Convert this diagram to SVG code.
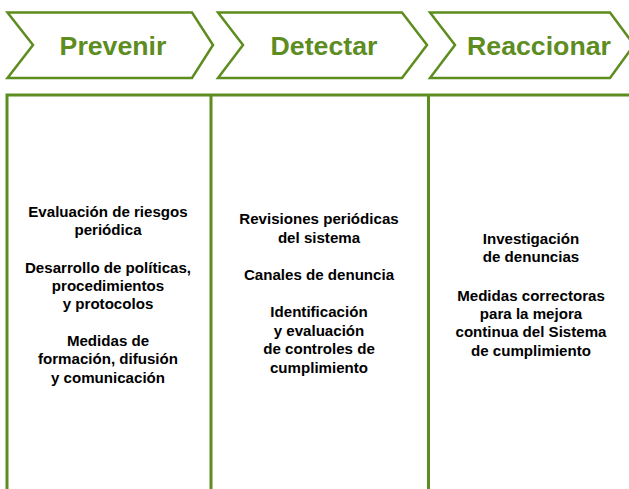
<svg xmlns="http://www.w3.org/2000/svg" width="629" height="489" viewBox="0 0 629 489">
<style>
.chev{fill:#fff;stroke:#5d8c1f;stroke-width:2.5;stroke-linejoin:miter}
.ttl{font-family:"Liberation Sans",Arial,sans-serif;font-weight:bold;font-size:26.7px;fill:#5d8c1f;text-anchor:middle}
.body{font-family:"Liberation Sans",Arial,sans-serif;font-weight:bold;font-size:15.1px;fill:#000;text-anchor:middle}
.ln{stroke:#5d8c1f;stroke-width:3;fill:none}
</style>
<rect width="629" height="489" fill="#fff"/>
<g id="prevenir">
<polygon class="chev" points="7.5,12.5 192,12.5 213,45 192,78 7.5,78 33,45"/>
<text class="ttl" x="113" y="54.5">Prevenir</text>
</g>
<g id="detectar">
<polygon class="chev" points="218,12.5 402,12.5 427,45 402,78 218,78 243,45"/>
<text class="ttl" x="324" y="54.5">Detectar</text>
</g>
<g id="reaccionar">
<polygon class="chev" points="430,12.5 610,12.5 634,45 610,78 430,78 455,45"/>
<text class="ttl" x="539" y="54.5">Reaccionar</text>
</g>
<g id="connectors">
<path class="ln" d="M7,489 V95 H629"/>
<path class="ln" d="M211,95 V489"/>
<path class="ln" d="M428.5,95 V489"/>
</g>
<g id="col-prevenir">
<text class="body" x="108" y="216.5">Evaluación de riesgos</text>
<text class="body" x="108" y="234.5">periódica</text>
<text class="body" x="108" y="272.5">Desarrollo de políticas,</text>
<text class="body" x="108" y="291">procedimientos</text>
<text class="body" x="108" y="308.5">y protocolos</text>
<text class="body" x="108" y="345.5">Medidas de</text>
<text class="body" x="108" y="363.5">formación, difusión</text>
<text class="body" x="108" y="382.5">y comunicación</text>
</g>
<g id="col-detectar">
<text class="body" x="319" y="223.5">Revisiones periódicas</text>
<text class="body" x="319" y="242.5">del sistema</text>
<text class="body" x="319" y="280">Canales de denuncia</text>
<text class="body" x="319" y="317">Identificación</text>
<text class="body" x="319" y="335.5">y evaluación</text>
<text class="body" x="319" y="354">de controles de</text>
<text class="body" x="319" y="373">cumplimiento</text>
</g>
<g id="col-reaccionar">
<text class="body" x="531" y="243.5">Investigación</text>
<text class="body" x="531" y="261.5">de denuncias</text>
<text class="body" x="531" y="300.5">Medidas correctoras</text>
<text class="body" x="531" y="318.5">para la mejora</text>
<text class="body" x="531" y="337">continua del Sistema</text>
<text class="body" x="531" y="355.5">de cumplimiento</text>
</g>
</svg>
